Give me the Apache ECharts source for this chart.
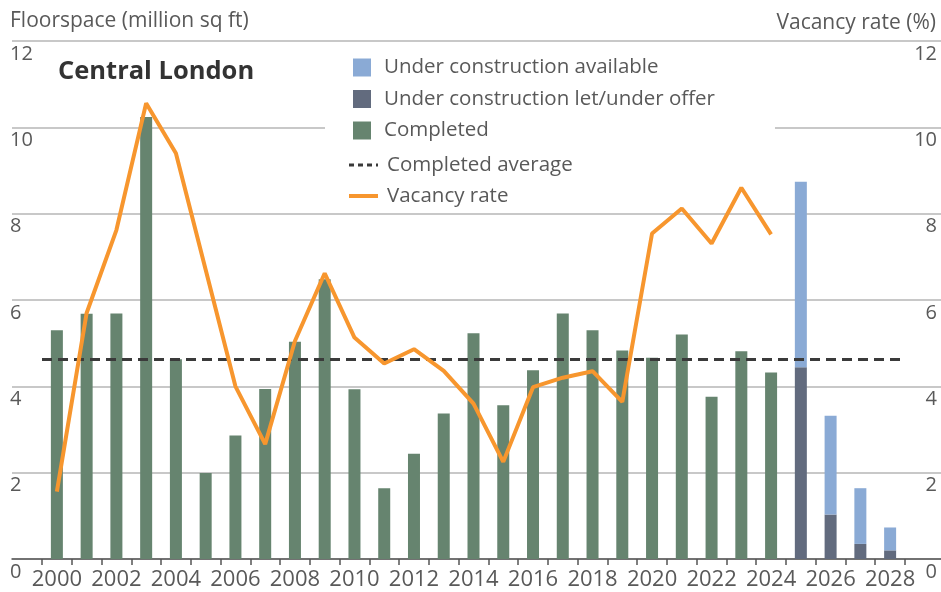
<!DOCTYPE html>
<html>
<head>
<meta charset="utf-8">
<script src="https://cdn.jsdelivr.net/npm/echarts@6/dist/echarts.min.js"></script>
<style>
  html, body { margin: 0; padding: 0; background: #fff; }
  #chart { width: 941px; height: 592px; }
</style>
</head>
<body>
<div id="chart"></div>
<script>
// categories
const years = ['2000', '2001', '2002', '2003', '2004', '2005', '2006', '2007', '2008', '2009',
  '2010', '2011', '2012', '2013', '2014', '2015', '2016', '2017', '2018', '2019',
  '2020', '2021', '2022', '2023', '2024', '2025', '2026', '2027', '2028']

// floorspace, million sq ft
const completed = [5.3, 5.68, 5.69, 10.24, 4.63, 1.99, 2.86, 3.94, 5.03, 6.48,
  3.93, 1.64, 2.44, 3.37, 5.23, 3.56, 4.37, 5.69, 5.3, 4.83,
  4.66, 5.2, 3.76, 4.81, 4.32, null, null, null, null]
const ucLet = [null, null, null, null, null, null, null, null, null, null,
  null, null, null, null, null, null, null, null, null, null,
  null, null, null, null, null, 4.44, 1.03, 0.35, 0.2]
const ucAvailable = [null, null, null, null, null, null, null, null, null, null,
  null, null, null, null, null, null, null, null, null, null,
  null, null, null, null, null, 4.3, 2.29, 1.29, 0.53]
const completedAverage = 4.62

// vacancy rate, %
const vacancy = [1.56, 5.7, 7.62, 10.56, 9.4, 6.7, 4.0, 2.66, 5.05, 6.62,
  5.13, 4.53, 4.86, 4.36, 3.6, 2.25, 3.98, 4.2, 4.35, 3.64,
  7.54, 8.12, 7.31, 8.6, 7.52, null, null, null, null]

const FONT = 'Open Sans'
const TXT = '#595959'
const GREEN = '#66846f'
const SLATE = '#626b7e'
const BLUE = '#8aaad5'
const ORANGE = '#f7962e'
const DASH = '#3a3a3a'

let chart = echarts.init(document.getElementById('chart'))
chart.setOption({
  animation: false,
  textStyle: { fontFamily: FONT },
  title: [
    {
      text: 'Central London', left: 58, top: 59, padding: 0,
      textStyle: { fontFamily: FONT, fontSize: 25.5, fontWeight: 'bold', color: '#333' }
    },
    {
      text: 'Floorspace (million sq ft)', left: 10, top: 11, padding: 0,
      textStyle: { fontFamily: FONT, fontSize: 21, fontWeight: 'normal', color: TXT }
    },
    {
      text: 'Vacancy rate (%)', right: 5, top: 13, padding: 0,
      textStyle: { fontFamily: FONT, fontSize: 21, fontWeight: 'normal', color: TXT }
    }
  ],
  legend: [
    {
      orient: 'vertical', left: 325, top: 53,
      padding: [4, 60, 6, 28],
      backgroundColor: '#fff',
      itemWidth: 18, itemHeight: 18, itemGap: 10.5, icon: 'rect',
      selectedMode: false,
      data: ['Under construction available', 'Under construction let/under offer', 'Completed'],
      textStyle: { fontFamily: FONT, fontSize: 20.5, color: TXT, lineHeight: 21, padding: [0, 0, 0, 8] }
    },
    {
      orient: 'vertical', left: 347, top: 154.5, padding: 0,
      itemWidth: 29, itemHeight: 14, itemGap: 10,
      selectedMode: false,
      data: [
        { name: 'Completed average', itemStyle: { opacity: 0 }, lineStyle: { type: [5, 4], width: 3 } },
        { name: 'Vacancy rate', itemStyle: { opacity: 0 }, lineStyle: { width: 4 } }
      ],
      textStyle: { fontFamily: FONT, fontSize: 20.5, color: TXT, lineHeight: 21, padding: [0, 0, 0, 4] }
    }
  ],
  grid: [
    { left: 12, right: 0, top: 41, bottom: 33 },
    { left: 42, right: 36, top: 41, bottom: 33 }
  ],
  xAxis: [
    {
      gridIndex: 0, type: 'value', min: 0, max: 1,
      axisLine: { show: true, lineStyle: { color: '#555', width: 1.5 } },
      axisTick: { show: false }, axisLabel: { show: false }, splitLine: { show: false }
    },
    {
      gridIndex: 1, type: 'category', data: years, boundaryGap: true,
      axisLine: { show: false },
      axisTick: { show: true, interval: 0, length: 6, lineStyle: { color: '#555', width: 1.5 } },
      axisLabel: { interval: 1, fontSize: 22, color: TXT, margin: 10 }
    }
  ],
  yAxis: [
    {
      gridIndex: 0, type: 'value', min: 0, max: 12, interval: 2, position: 'left',
      axisLine: { show: false }, axisTick: { show: false },
      axisLabel: { inside: true, margin: -2, verticalAlign: 'top', padding: [3, 0, 0, 0], fontSize: 20, color: TXT },
      splitLine: { lineStyle: { color: '#c8c8c8', width: 2 } }
    },
    {
      gridIndex: 0, type: 'value', min: 0, max: 12, interval: 2, position: 'right',
      axisLine: { show: false }, axisTick: { show: false },
      axisLabel: { inside: true, margin: 4, verticalAlign: 'top', padding: [3, 0, 0, 0], fontSize: 20, color: TXT },
      splitLine: { show: false }
    },
    { gridIndex: 1, type: 'value', min: 0, max: 12, show: false },
    { gridIndex: 1, type: 'value', min: 0, max: 12, show: false, position: 'right' }
  ],
  series: [
    {
      name: 'Completed', type: 'bar', xAxisIndex: 1, yAxisIndex: 2, stack: 'floor',
      barWidth: 12, data: completed, itemStyle: { color: GREEN }
    },
    {
      name: 'Under construction let/under offer', type: 'bar', xAxisIndex: 1, yAxisIndex: 2, stack: 'floor',
      barWidth: 12, data: ucLet, itemStyle: { color: SLATE }
    },
    {
      name: 'Under construction available', type: 'bar', xAxisIndex: 1, yAxisIndex: 2, stack: 'floor',
      barWidth: 12, data: ucAvailable, itemStyle: { color: BLUE }
    },
    {
      name: 'Completed average', type: 'line', xAxisIndex: 1, yAxisIndex: 2,
      data: [], symbol: 'none', z: 5,
      lineStyle: { color: DASH, width: 3, type: [10, 6] },
      itemStyle: { color: DASH },
      markLine: {
        silent: true, symbol: 'none', label: { show: false },
        lineStyle: { color: DASH, width: 3, type: [10, 6] },
        data: [{ yAxis: completedAverage }]
      }
    },
    {
      name: 'Vacancy rate', type: 'line', xAxisIndex: 1, yAxisIndex: 3,
      data: vacancy, symbol: 'none', z: 6,
      lineStyle: { color: ORANGE, width: 4 },
      itemStyle: { color: ORANGE }
    }
  ]
})
</script>
</body>
</html>
